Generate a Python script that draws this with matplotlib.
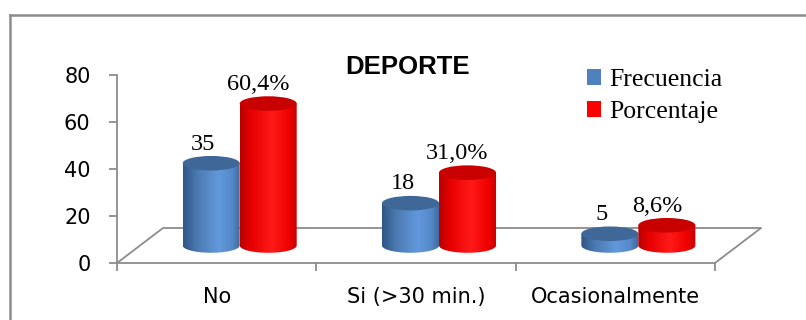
import numpy as np
import matplotlib
matplotlib.use("Agg")
import matplotlib.pyplot as plt
from matplotlib.patches import Ellipse, Polygon, Rectangle
from matplotlib.colors import LinearSegmentedColormap
from matplotlib.lines import Line2D

# ---- data ----
categories = ["No", "Si (>30 min.)", "Ocasionalmente"]
frecuencia = [35, 18, 5]
porcentaje = [60.4, 31.0, 8.6]
freq_labels = ["35", "18", "5"]
pct_labels = ["60,4%", "31,0%", "8,6%"]
series_names = ["Frecuencia", "Porcentaje"]
yticks = [0, 20, 40, 60, 80]
title = "DEPORTE"

W, H = 806, 320
fig = plt.figure(figsize=(W / 100, H / 100), dpi=100)

def fx(px):
    return px / W

def fy(py):
    return 1 - py / H

ax = fig.add_axes([fx(117), fy(263), fx(715) - fx(117), fy(75) - fy(263)])
ax.set_xlim(0, 3)
ax.set_ylim(0, 80)

grey = "#8c8c8c"
for s in ["top", "right"]:
    ax.spines[s].set_visible(False)
for s in ["left", "bottom"]:
    ax.spines[s].set_color(grey)
    ax.spines[s].set_linewidth(1.3)

# depth offsets (data units)
ddx, ddy = 0.231, 14.9
# floor
floor_x = [0, ddx, 3 + ddx, 3]
floor_y = [0, ddy, ddy, 0]
ax.plot(floor_x, floor_y, color=grey, lw=1.3, clip_on=False, zorder=1)

blue_cmap = LinearSegmentedColormap.from_list(
    "b", [(0, "#2f5585"), (0.25, "#4c7ab2"), (0.62, "#6299dc"), (0.85, "#5489c8"), (1, "#3d6699")])
red_cmap = LinearSegmentedColormap.from_list(
    "r", [(0, "#b80000"), (0.2, "#e80000"), (0.55, "#ff1a1a"), (0.85, "#f00000"), (1, "#c40000")])
blue_top = "#3f6899"
red_top = "#c80000"

cyl_w = 0.286
ell_h = 6.2
base_off = ddy / 2
grad = np.linspace(0, 1, 256)[np.newaxis, :]

def cylinder(xc, value, cmap, topcolor, z):
    base = base_off
    top = base_off + value
    t = np.linspace(0, np.pi, 80)
    arc_x = xc + cyl_w / 2 * np.cos(t)
    arc_y = base - ell_h / 2 * np.sin(t)
    xs = np.concatenate([[xc - cyl_w / 2, xc + cyl_w / 2], arc_x])
    ys = np.concatenate([[top, top], arc_y])
    poly = Polygon(np.column_stack([xs, ys]), closed=True, facecolor="none",
                   edgecolor="none", transform=ax.transData)
    ax.add_patch(poly)
    im = ax.imshow(grad, cmap=cmap, aspect="auto", zorder=z,
                   extent=[xc - cyl_w / 2, xc + cyl_w / 2, base - ell_h / 2, top],
                   interpolation="bilinear")
    im.set_clip_path(poly)
    ax.add_patch(Ellipse((xc, top), cyl_w, ell_h, facecolor=topcolor,
                         edgecolor="none", zorder=z + 0.1))
    return top

label_font = dict(family="Liberation Serif", fontsize=17.5, color="black")
for i in range(len(categories)):
    c = i + 0.5 + ddx / 2
    bx = c - cyl_w / 2
    rx = c + cyl_w / 2
    tb = cylinder(bx, frecuencia[i], blue_cmap, blue_top, 3)
    tr = cylinder(rx, porcentaje[i], red_cmap, red_top, 4)
    ax.text(bx - 0.04, tb + ell_h / 2 + 0.6, freq_labels[i], ha="center", va="bottom", **label_font)
    ax.text(rx - 0.05, tr + ell_h / 2 + 0.6, pct_labels[i], ha="center", va="bottom", **label_font)

ax.set_xlim(0, 3)
ax.set_ylim(0, 80)

# ticks
ax.set_yticks(yticks)
ax.set_yticklabels([str(v) for v in yticks])
ax.tick_params(axis="y", length=6, width=1.3, color=grey, pad=13, labelsize=15)
ax.set_xticks([0, 1, 2, 3])
ax.set_xticklabels([])
ax.set_xticks([0.5, 1.5, 2.5], minor=True)
ax.set_xticklabels(categories, minor=True)
ax.tick_params(axis="x", which="major", length=6, width=1.3, color=grey)
ax.tick_params(axis="x", which="minor", length=0, pad=17, labelsize=15)
for lab in ax.get_yticklabels() + ax.get_xticklabels(minor=True):
    lab.set_family("DejaVu Sans")

# title
fig.text(fx(408), fy(67), title, ha="center", va="center", fontsize=18.5,
         fontweight="bold", family="Liberation Sans")

# legend
handles = [Rectangle((0, 0), 1, 1, facecolor="#4f81bd"), Rectangle((0, 0), 1, 1, facecolor="#ff0000")]
fig.legend(handles, series_names, loc="upper left", bbox_to_anchor=(fx(587), fy(69)),
           frameon=False, handlelength=0.55, handleheight=0.55, handletextpad=0.3,
           labelspacing=0.4, borderpad=0, borderaxespad=0,
           prop=dict(family="Liberation Serif", size=18.5))

# outer frame (left and top edges visible)
fig.add_artist(Line2D([fx(10), fx(10)], [fy(15), 0], color=grey, lw=1.8, transform=fig.transFigure))
fig.add_artist(Line2D([fx(10), 1], [fy(15), fy(15)], color=grey, lw=1.8, transform=fig.transFigure))

fig.savefig("out.png", dpi=100)
